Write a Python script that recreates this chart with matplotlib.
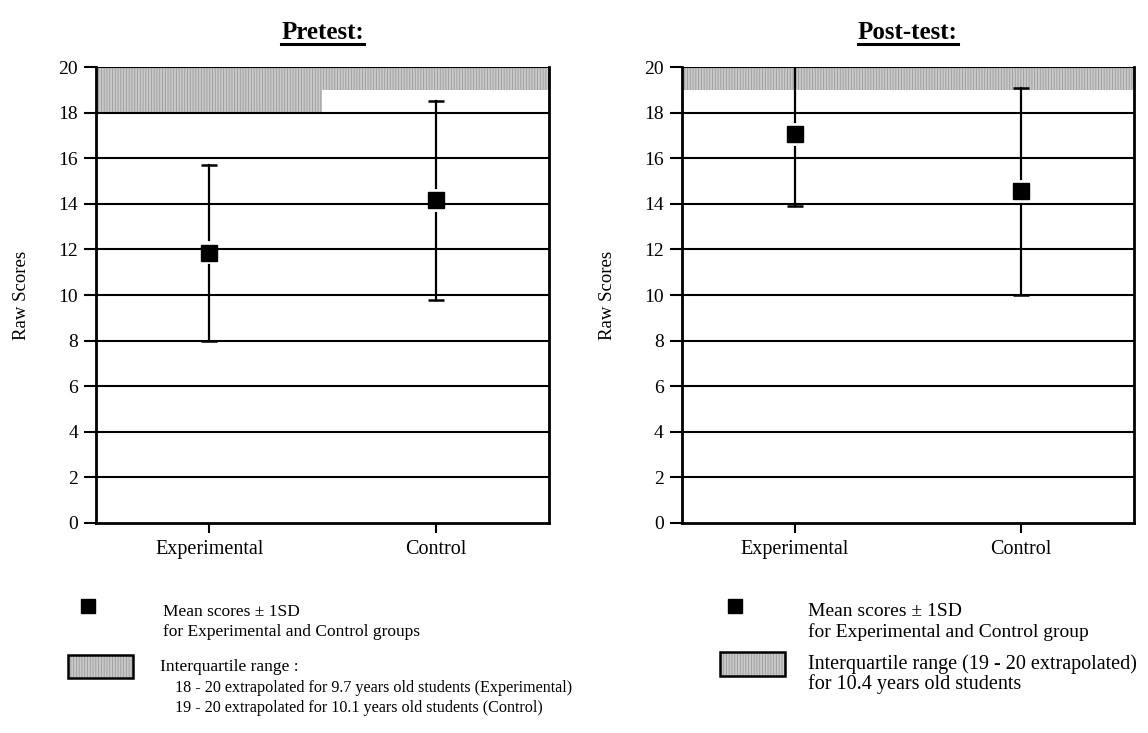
import matplotlib.pyplot as plt
from matplotlib.patches import Rectangle
from matplotlib.lines import Line2D

plt.rcParams['font.family'] = ['Liberation Serif', 'DejaVu Serif']
plt.rcParams['hatch.linewidth'] = 0.6

groups = ["Experimental", "Control"]

# mean and SD for each test
pre_mean = [11.85, 14.15]
pre_sd = [3.85, 4.35]
post_mean = [17.05, 14.55]
post_sd = [3.15, 4.55]

# interquartile ranges (low, high) per group
pre_iqr_low = [18, 19]
post_iqr_low = [19, 19]
iqr_high = 20

yticks = list(range(0, 21, 2))

SHADE = '#c9c9c9'
HATCH_COL = '#9a9a9a'


def draw_panel(ax, means, sds, iqr_low, title):
    xs = list(range(len(groups)))
    # shaded interquartile band
    ax.bar(xs, [iqr_high - lo for lo in iqr_low], bottom=iqr_low, width=1.0,
           color=SHADE, edgecolor=HATCH_COL, hatch='||||||', linewidth=0, zorder=1)
    for y in yticks[1:]:
        ax.axhline(y, color='black', lw=1.5, zorder=2)
    gap = 0.55
    for x, m, s in zip(xs, means, sds):
        ax.plot([x, x], [m + gap, m + s], color='black', lw=1.6, zorder=3)
        ax.plot([x, x], [m - s, m - gap], color='black', lw=1.6, zorder=3)
        ax.plot([x, x], [m - s, m + s], ls='none', marker='_', ms=12,
                mew=1.8, color='black', zorder=3)
    ax.plot(xs, means, ls='none', marker='s', ms=11, color='black', zorder=4)

    ax.set_xlim(-0.5, 1.5)
    ax.set_ylim(0, 20)
    ax.set_yticks(yticks)
    ax.set_xticks(xs)
    ax.set_xticklabels(groups, fontsize=14.5)
    ax.tick_params(axis='x', length=7, width=1.5, pad=5)
    ax.tick_params(axis='y', length=9, width=1.5, pad=4, labelsize=14)
    ax.set_ylabel("Raw Scores", fontsize=13.5, labelpad=20)
    for side in ['left', 'right', 'bottom']:
        ax.spines[side].set_linewidth(2)
    ax.spines['top'].set_visible(False)
    ax.set_title(title, fontsize=18, fontweight='bold', pad=20)


fig = plt.figure(figsize=(11.48, 7.33), dpi=100)
ax1 = fig.add_axes([0.0836, 0.2865, 0.3946, 0.622])
ax2 = fig.add_axes([0.594, 0.2865, 0.3937, 0.622])

draw_panel(ax1, pre_mean, pre_sd, pre_iqr_low, "Pretest:")
draw_panel(ax2, post_mean, post_sd, post_iqr_low, "Post-test:")

# underline the panel titles
fig.canvas.draw()
renderer = fig.canvas.get_renderer()
for ax in (ax1, ax2):
    bb = ax.title.get_window_extent(renderer).transformed(fig.transFigure.inverted())
    fig.add_artist(Line2D([bb.x0, bb.x1], [bb.y0 + 0.001, bb.y0 + 0.001],
                          transform=fig.transFigure, color='black', lw=2.2))


def px(x, y):
    return x / 1148, 1 - y / 733


def legend_square(x, y):
    fx, fy = px(x, y)
    fig.add_artist(Line2D([fx], [fy], marker='s', ms=10.5, color='black',
                          ls='none', transform=fig.transFigure))


def legend_box(x0, y0, x1, y1):
    fx0, fy1 = px(x0, y0)
    fx1, fy0 = px(x1, y1)
    fig.add_artist(Rectangle((fx0, fy0), fx1 - fx0, fy1 - fy0, transform=fig.transFigure,
                             facecolor=SHADE, edgecolor=HATCH_COL, hatch='||||||', lw=0))
    fig.add_artist(Rectangle((fx0, fy0), fx1 - fx0, fy1 - fy0, transform=fig.transFigure,
                             facecolor='none', edgecolor='black', lw=1.8))


def legend_text(x, y, s, size=12):
    fx, fy = px(x, y)
    fig.text(fx, fy, s, fontsize=size, va='center', ha='left')


# left legend
legend_square(88, 606)
legend_text(163, 612, "Mean scores \u00b1 1SD", 12.5)
legend_text(163, 632, "for Experimental and Control groups", 12.5)
legend_box(68, 655, 133, 678)
legend_text(160, 667, "Interquartile range :", 12.5)
legend_text(175, 688, "18 - 20 extrapolated for 9.7 years old students (Experimental)", 11.6)
legend_text(175, 708, "19 - 20 extrapolated for 10.1 years old students (Control)", 11.6)

# right legend
legend_square(735, 606)
legend_text(808, 612, "Mean scores \u00b1 1SD", 14)
legend_text(808, 632, "for Experimental and Control group", 14)
legend_box(720, 652, 785, 676)
legend_text(808, 664, "Interquartile range (19 - 20 extrapolated)", 14.5)
legend_text(808, 684, "for 10.4 years old students", 14.5)

fig.savefig("out.png", dpi=100)
